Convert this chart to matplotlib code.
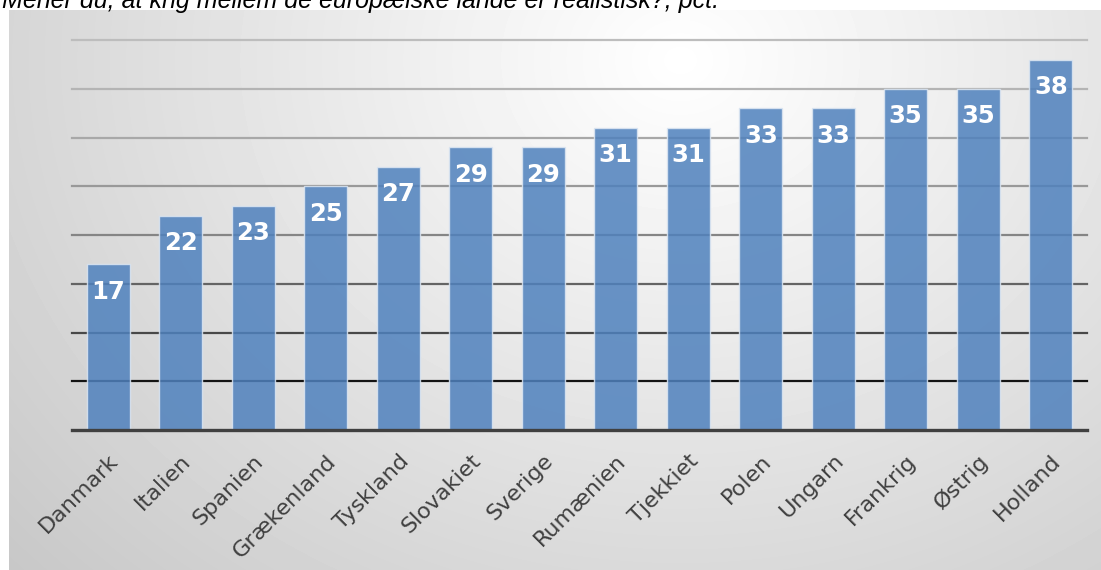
import numpy as np
import matplotlib.pyplot as plt

countries = ['Danmark', 'Italien', 'Spanien', 'Grækenland', 'Tyskland', 'Slovakiet',
             'Sverige', 'Rumænien', 'Tjekkiet', 'Polen', 'Ungarn', 'Frankrig',
             'Østrig', 'Holland']
values = [17, 22, 23, 25, 27, 29, 29, 31, 31, 33, 33, 35, 35, 38]
grid_levels = [5, 10, 15, 20, 25, 30, 35, 40]
grid_colors = ['#141414', '#484848', '#646464', '#858585', '#999999', '#a8a8a8',
               '#b4b4b4', '#bdbdbd']
title = "Mener du, at krig mellem de europæiske lande er realistisk?, pct."

W, H = 1101, 570
fig = plt.figure(figsize=(W / 100, H / 100), dpi=100)
fig.patch.set_facecolor('white')

# radial grey gradient behind the chart
bg = fig.add_axes([9 / W, 0, 1 - 9 / W, 1 - 10 / H])
bg.set_axis_off()
yy, xx = np.mgrid[10:H, 9:W]
r = np.sqrt(((xx - 680) / 720.0) ** 2 + ((yy - 60) / 600.0) ** 2)
shade = np.clip(255 - 44 * r, 195, 255) / 255.0
bg.imshow(shade, cmap='gray', vmin=0, vmax=1, aspect='auto',
          interpolation='bilinear')

# the title sits above the chart and is cut off at the top edge
fig.text(0.0015, 1 - 8 / H, title, fontsize=18, style='italic',
         family='Liberation Sans', color='black', va='baseline', ha='left')

ax = fig.add_axes([72 / W, 1 - 430 / H, (1087 - 72) / W, 390 / H])
ax.patch.set_alpha(0)
x = np.arange(len(countries))
ax.set_xlim(-0.5, len(countries) - 0.5)
ax.set_ylim(0, 40)

for level, col in zip(grid_levels, grid_colors):
    ax.axhline(level, color=col, lw=1.6, zorder=1, clip_on=False)

ax.bar(x, values, width=0.59, color='#4f81bd', alpha=0.85,
       edgecolor='#dce6f2', linewidth=1, zorder=2)
ax.axhline(0, color='#404040', lw=2.4, zorder=3, clip_on=False)

for xi, v in zip(x, values):
    ax.annotate(str(v), (xi, v), xytext=(0, -11), textcoords='offset points',
                ha='center', va='top', color='white', fontsize=17.5,
                fontweight='bold', family='DejaVu Sans', zorder=4)

for s in ax.spines.values():
    s.set_visible(False)
ax.set_yticks([])
ax.set_xticks(x)
ax.set_xticklabels(countries, rotation=45, ha='right', rotation_mode='anchor',
                   fontsize=16, color='#404040')
ax.tick_params(axis='x', length=0, pad=15)

fig.savefig('out.png', dpi=100)
